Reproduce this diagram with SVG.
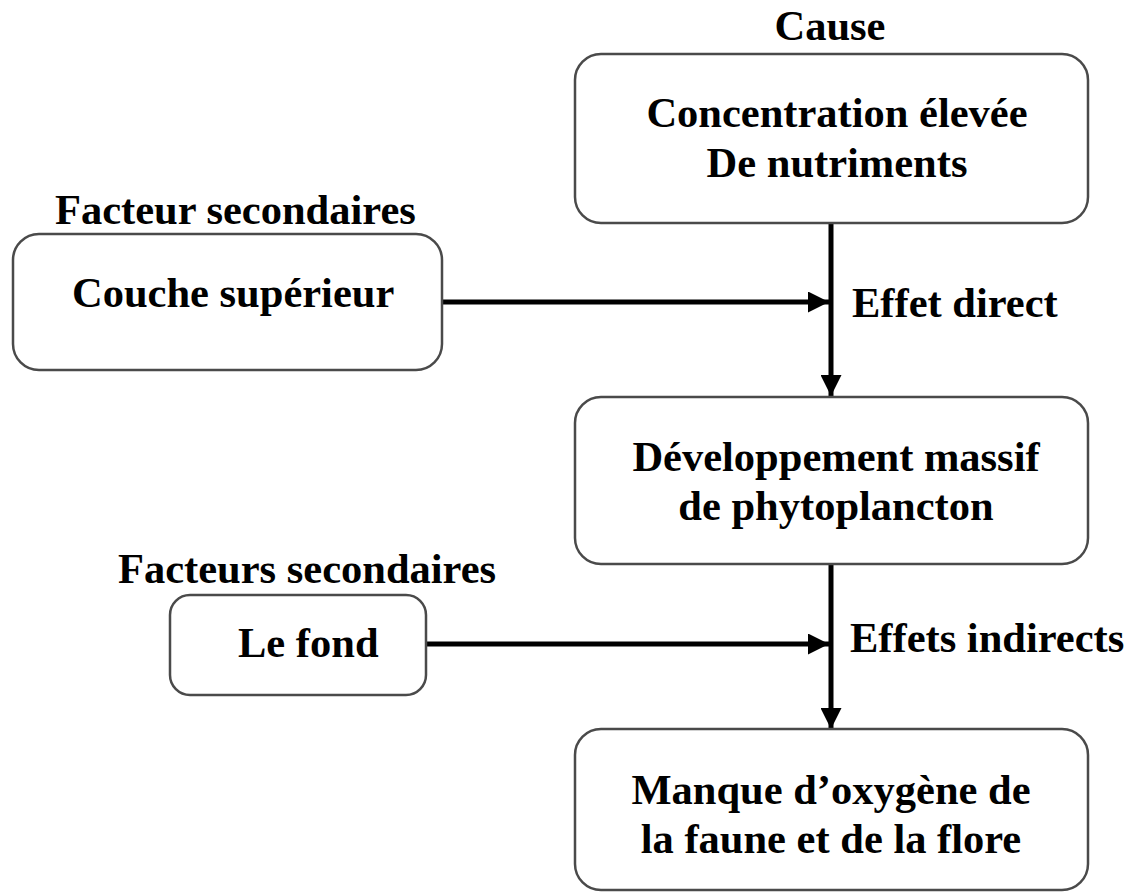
<svg xmlns="http://www.w3.org/2000/svg" width="1129" height="894" viewBox="0 0 1129 894">
<defs>
<style>
.box{fill:#fff;stroke:#4a4a4a;stroke-width:2.5}
.t{font-family:"Liberation Serif","Times New Roman",serif;font-weight:bold;font-size:42.5px;fill:#000;text-anchor:middle}
.tl{font-family:"Liberation Serif","Times New Roman",serif;font-weight:bold;font-size:42.5px;fill:#000}
.c{stroke:#000;stroke-width:5;fill:none}
</style>
<marker id="ah" viewBox="0 0 10 10" refX="10" refY="5" markerWidth="4.2" markerHeight="4.2" markerUnits="strokeWidth" orient="auto">
<path d="M0,0 L10,5 L0,10 z" fill="#000"/>
</marker>
</defs>
<rect width="1129" height="894" fill="#fff"/>
<g id="connectors">
<line class="c" x1="831" y1="224" x2="831" y2="396" marker-end="url(#ah)"/>
<line class="c" x1="443" y1="302" x2="829" y2="302" marker-end="url(#ah)"/>
<line class="c" x1="831" y1="565" x2="831" y2="729" marker-end="url(#ah)"/>
<line class="c" x1="427" y1="644" x2="829" y2="644" marker-end="url(#ah)"/>
<text class="tl" x="852" y="317">Effet direct</text>
<text class="tl" x="850" y="652">Effets indirects</text>
</g>
<g id="cause">
<text class="t" x="830" y="40">Cause</text>
<rect class="box" x="575" y="54" width="513" height="169" rx="26"/>
<text class="t" x="837" y="127">Concentration élevée</text>
<text class="t" x="837" y="177">De nutriments</text>
</g>
<g id="couche">
<text class="tl" x="55" y="224">Facteur secondaires</text>
<rect class="box" x="13" y="234" width="429" height="136" rx="26"/>
<text class="tl" x="72" y="307">Couche supérieur</text>
</g>
<g id="developpement">
<rect class="box" x="575" y="397" width="513" height="167" rx="26"/>
<text class="t" x="836" y="471">Développement massif</text>
<text class="t" x="836" y="520">de phytoplancton</text>
</g>
<g id="fond">
<text class="tl" x="118" y="583">Facteurs secondaires</text>
<rect class="box" x="170" y="595" width="256" height="100" rx="20"/>
<text class="tl" x="238" y="657">Le fond</text>
</g>
<g id="manque">
<rect class="box" x="575" y="729" width="513" height="161" rx="26"/>
<text class="t" x="831" y="804">Manque d’oxygène de</text>
<text class="t" x="831" y="853">la faune et de la flore</text>
</g>
</svg>
